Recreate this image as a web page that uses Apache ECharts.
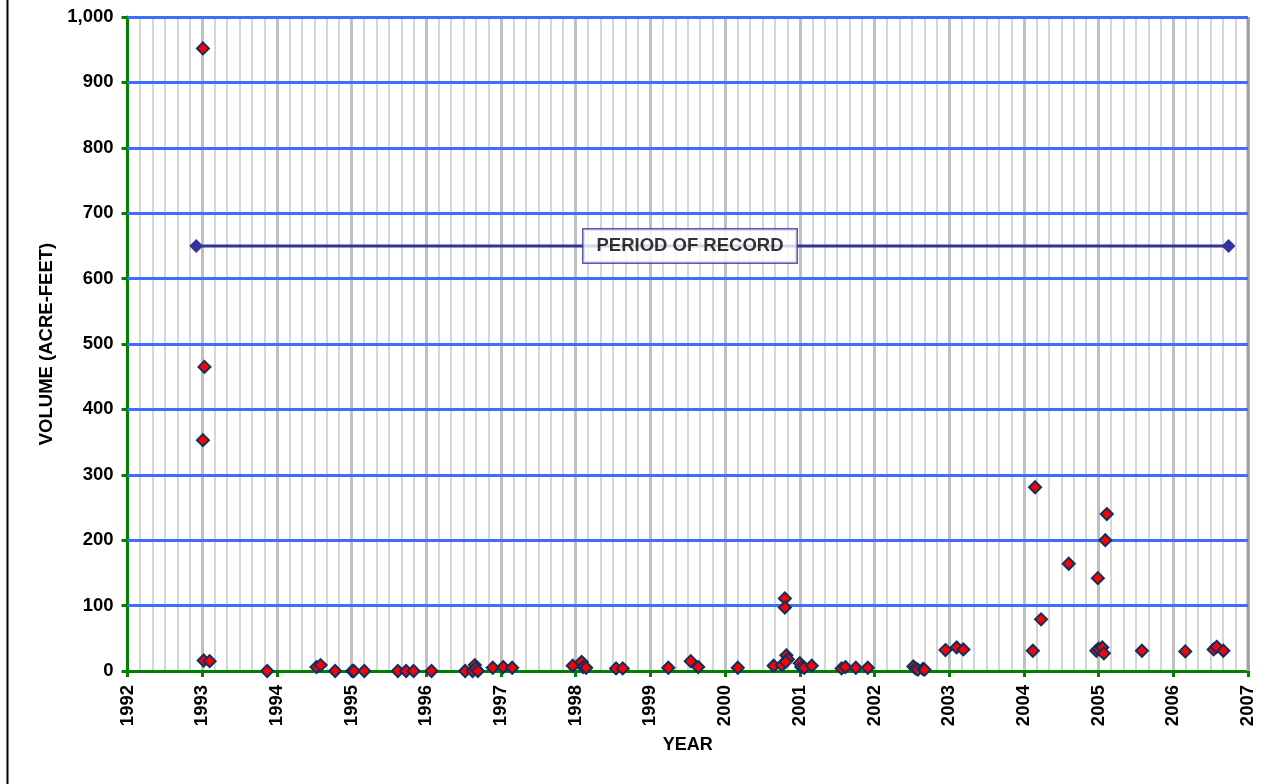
<!DOCTYPE html>
<html><head><meta charset="utf-8">
<script src="https://cdn.jsdelivr.net/npm/echarts@6/dist/echarts.min.js"></script>
<style>html,body{margin:0;padding:0;background:#fff}#c{width:1285px;height:784px}</style>
</head><body><div id="c"></div>
<script>
// Sample dates (decimal year) and volumes (acre-feet)
var sampleYears = [1993.01,1993.03,1993.01,1993.02,1993.10,1993.87,1994.53,1994.585,1994.78,1995.01,1995.03,1995.17,1995.62,1995.73,1995.83,1996.07,1996.52,1996.62,1996.65,1996.66,1996.69,1996.89,1997.03,1997.15,1997.96,1998.08,1998.10,1998.14,1998.54,1998.63,1999.24,1999.54,1999.64,2000.17,2000.65,2000.76,2000.80,2000.80,2000.82,2000.84,2000.81,2001.00,2001.02,2001.06,2001.16,2001.56,2001.61,2001.75,2001.91,2002.52,2002.55,2002.58,2002.65,2002.67,2002.95,2003.10,2003.19,2004.12,2004.15,2004.23,2004.60,2004.97,2004.99,2005.00,2005.05,2005.07,2005.09,2005.11,2005.58,2006.16,2006.54,2006.58,2006.67];
var sampleVolumes = [952,465,353,16,15,0,6,9,0,0,0,0,0,0,0,0,0,0,9,4,0,5,6,5,8,14,6,5,4,4,5,15,6,5,8,9,111,97,24,18,14,12,6,5,8,4,6,5,5,7,4,2,3,2,32,36,33,31,281,79,164,31,142,34,36,27,200,240,31,30,33,37,31];
// Period of record
var periodYears = [1992.92, 2006.74];
var periodLevel = 650;
var periodLabelYear = 1999.53;
var periodLabelText = 'PERIOD OF RECORD';
// Axes
var xMin = 1992, xMax = 2007, yMin = 0, yMax = 1000;
var yGridValues = [100,200,300,400,500,600,700,800,900,1000];
var xTitle = 'YEAR', yTitle = 'VOLUME (ACRE-FEET)';

var points = sampleYears.map(function(x, i){ return [x, sampleVolumes[i]]; });
var periodData = periodYears.map(function(x){ return [x, periodLevel]; });

var chart = echarts.init(document.getElementById('c'), null, {renderer:'canvas'});
var bold = {fontFamily:'Liberation Sans, Arial, sans-serif', fontWeight:'bold', color:'#000'};
chart.setOption({
  animation:false,
  grid:{left:127.5, right:37, top:17, bottom:113, containLabel:false},
  xAxis:{
    type:'value', min:xMin, max:xMax, interval:1,
    name:xTitle, nameLocation:'middle', nameGap:65,
    nameTextStyle:Object.assign({fontSize:18}, bold),
    axisLine:{show:true, onZero:false, lineStyle:{color:'#008000', width:3}},
    axisTick:{show:true, length:6, lineStyle:{color:'#008000', width:3}},
    axisLabel:Object.assign({rotate:90, fontSize:18.5, margin:14, formatter:function(v){return String(v);}}, bold),
    splitLine:{show:true, lineStyle:{color:'#c0c0c0', width:3}},
    minorTick:{show:false, splitNumber:6},
    minorSplitLine:{show:true, lineStyle:{color:'#d6d6d6', width:2}}
  },
  yAxis:{
    type:'value', min:yMin, max:yMax, interval:100,
    name:yTitle, nameLocation:'middle', nameGap:70, nameRotate:90,
    nameTextStyle:Object.assign({fontSize:18.5}, bold),
    axisLine:{show:true, onZero:false, lineStyle:{color:'#008000', width:3}},
    axisTick:{show:true, length:6, lineStyle:{color:'#008000', width:3}},
    axisLabel:Object.assign({fontSize:18.5, margin:14, formatter:function(v){return v.toLocaleString('en-US');}}, bold),
    splitLine:{show:false}
  },
  graphic:[{type:'line', shape:{x1:7.5, y1:0, x2:7.5, y2:784}, style:{stroke:'#000', lineWidth:2}, z:100},
           {type:'line', shape:{x1:1248, y1:17, x2:1248, y2:671}, style:{stroke:'#a0a0a0', lineWidth:3}, z:1}],
  series:[
    {type:'line', data:periodData, symbol:'diamond', symbolSize:14, showAllSymbol:true,
     lineStyle:{color:'#333399', width:3}, itemStyle:{color:'#333399'}, z:3,
     markLine:{silent:true, symbol:'none', label:{show:false}, animation:false, z:1,
       lineStyle:{color:'#3f6dff', width:3, type:'solid'},
       data:yGridValues.map(function(v){ return {yAxis:v}; })}},
    {type:'scatter', data:[[periodLabelYear, periodLevel]], symbolSize:0, z:5,
     label:{show:true, position:'inside', formatter:periodLabelText, fontSize:18.5, fontWeight:'bold',
       fontFamily:'Liberation Sans, Arial, sans-serif', color:'#000', backgroundColor:'#fff',
       borderColor:'#333399', borderWidth:1.5, padding:[7,13,7,13]}},
    {type:'scatter', data:points, symbol:'diamond', symbolSize:12,
     itemStyle:{color:'#ff0000', borderColor:'#0f3060', borderWidth:2, opacity:1}, z:4}
  ]
});
</script></body></html>
